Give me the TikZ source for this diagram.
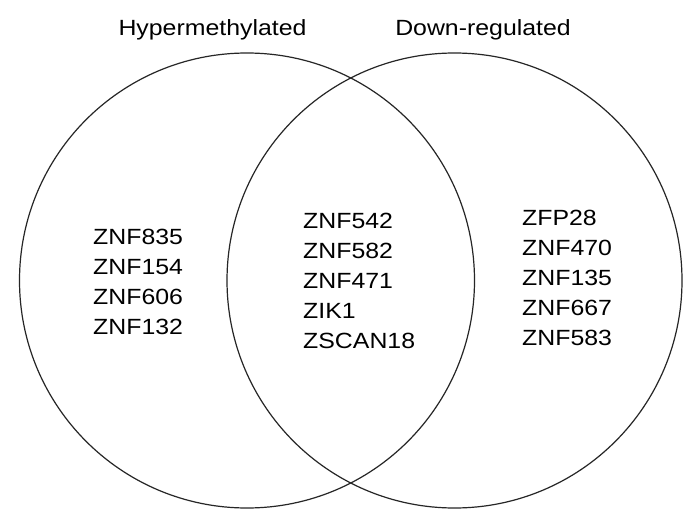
\documentclass[tikz,border=0pt]{standalone}
\usepackage{fontspec}
\setmainfont[FakeStretch=1.13]{Liberation Sans}
\begin{document}
\begin{tikzpicture}[x=1pt,y=-1pt,
  lbl/.style={inner sep=0pt,anchor=base west,font=\fontsize{22}{30}\selectfont},
  ttl/.style={inner sep=0pt,anchor=base,font=\fontsize{22}{30}\selectfont},
  ring/.style={draw=black!85,line width=1.2pt}]
\useasboundingbox (0,0) rectangle (700,529);
\fill[white] (0,0) rectangle (700,529);
\draw[ring] (247,280.5) circle[radius=227.5];
\draw[ring] (454.5,280.5) circle[radius=227.5];
\node[ttl] (t1) at (212.5,36) {Hypermethylated};
\node[ttl] (t2) at (483,36) {Down-regulated};
\node[lbl] (a1) at (93,244.5) {ZNF835};
\node[lbl] (a2) at (93,274.5) {ZNF154};
\node[lbl] (a3) at (93,304.5) {ZNF606};
\node[lbl] (a4) at (93,334.5) {ZNF132};
\node[lbl] (b1) at (303,228) {ZNF542};
\node[lbl] (b2) at (303,258) {ZNF582};
\node[lbl] (b3) at (303,288) {ZNF471};
\node[lbl] (b4) at (303,318) {ZIK1};
\node[lbl] (b5) at (303,348) {ZSCAN18};
\node[lbl] (c1) at (522,225) {ZFP28};
\node[lbl] (c2) at (522,255) {ZNF470};
\node[lbl] (c3) at (522,285) {ZNF135};
\node[lbl] (c4) at (522,315) {ZNF667};
\node[lbl] (c5) at (522,345) {ZNF583};
\end{tikzpicture}
\end{document}
